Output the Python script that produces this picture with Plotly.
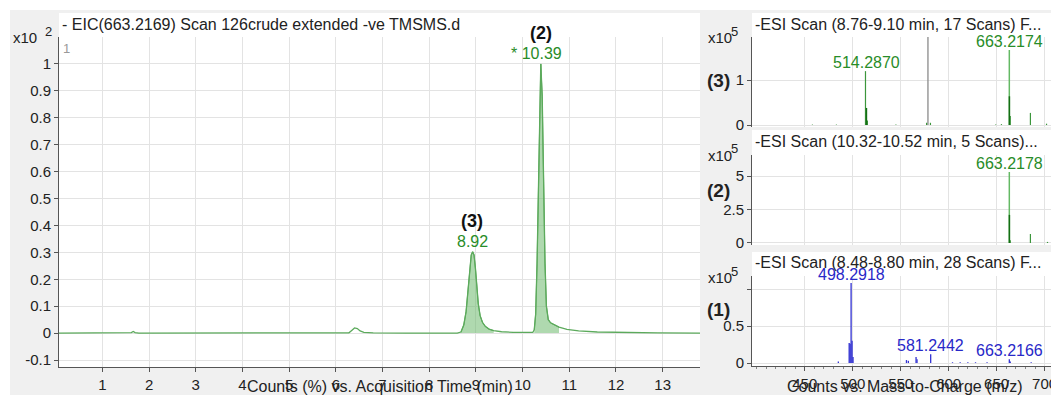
import plotly.graph_objects as go

# The page body has an 8px default margin, so the figure is drawn 8px in from the corner.
OFF = 8
W, H = 1059 - OFF, 395 - OFF

# ---------------- data ----------------
# Extracted ion chromatogram (EIC 663.2169), x10^2 counts (%)
rt_min = [0.07, 1.55, 1.62, 1.66, 1.70, 1.78, 5.90, 6.28, 6.34, 6.40, 6.46, 6.52, 6.60,
          6.80, 7.50, 8.40, 8.60, 8.68, 8.74, 8.79, 8.83, 8.87, 8.90, 8.93, 8.96, 8.99,
          9.02, 9.05, 9.09, 9.14, 9.20, 9.28, 9.38, 9.55, 9.80, 10.10, 10.22, 10.25,
          10.28, 10.31, 10.34, 10.37, 10.39, 10.42, 10.45, 10.48, 10.51, 10.55, 10.60,
          10.68, 10.78, 10.95, 11.20, 11.60, 12.20, 12.90, 13.80]
eic_counts = [0.000, 0.000, 0.002, 0.006, 0.002, 0.000, 0.000, 0.001, 0.010, 0.019, 0.017,
              0.008, 0.003, 0.001, 0.000, -0.001, 0.000, 0.004, 0.030, 0.080, 0.150, 0.240,
              0.290, 0.302, 0.290, 0.240, 0.170, 0.110, 0.065, 0.040, 0.025, 0.015, 0.009,
              0.005, 0.003, 0.002, 0.003, 0.012, 0.070, 0.260, 0.560, 0.860, 1.000, 0.880,
              0.560, 0.260, 0.100, 0.050, 0.038, 0.030, 0.022, 0.014, 0.008, 0.004, 0.002,
              0.001, 0.000]
integration_windows = [(8.68, 9.38), (10.25, 10.78)]
peak_rt_labels = ["8.92", "* 10.39"]
peak_rt = [8.92, 10.39]
peak_rt_height = [0.302, 1.000]
peak_ids = ["(3)", "(2)"]
rt_ticks = list(range(1, 14))
eic_ticks = [-0.1, 0, 0.1, 0.2, 0.3, 0.4, 0.5, 0.6, 0.7, 0.8, 0.9, 1]

# Mass spectra, x10^5 counts
# (3) -ESI Scan (8.76-9.10 min)
ms3_mz = [458.0, 483.0, 513.3, 515.3, 545.0, 577.0, 581.0, 649.0, 655.0, 664.2, 685.2, 702.0]
ms3_int = [0.01, 0.01, 1.20, 0.10, 0.01, 0.05, 0.05, 0.01, 0.02, 0.20, 0.27, 0.03]
ms3_main_mz = [663.2174]
ms3_main_int = [1.67]
ms3_dark_mz = [514.2870, 663.3]
ms3_dark_int = [0.38, 0.64]
ms3_marker_mz = [578.4]
ms3_labels = ["514.2870", "663.2174"]
ms3_label_mz = [514.287, 663.2174]
ms3_label_int = [1.20, 1.67]

# (2) -ESI Scan (10.32-10.52 min)
ms2_mz = [664.2, 685.2, 703.0]
ms2_int = [0.20, 0.67, 0.08]
ms2_main_mz = [663.2178]
ms2_main_int = [5.30]
ms2_dark_mz = [663.3]
ms2_dark_int = [2.10]
ms2_labels = ["663.2178"]
ms2_label_mz = [663.2178]
ms2_label_int = [5.30]

# (1) -ESI Scan (8.48-8.80 min)
ms1_mz = [485.0, 496.3, 497.3, 498.2918, 499.3, 500.3, 556.0, 558.0, 566.0, 567.0,
          581.2442, 604.0, 612.0, 620.0, 628.0, 640.0, 663.2166, 664.2, 686.0]
ms1_int = [0.02, 0.27, 0.26, 1.08, 0.30, 0.08, 0.04, 0.03, 0.08, 0.05,
           0.12, 0.01, 0.01, 0.01, 0.01, 0.01, 0.05, 0.02, 0.01]
ms1_labels = ["498.2918", "581.2442", "663.2166"]
ms1_label_mz = [498.2918, 581.2442, 663.2166]
ms1_label_int = [1.08, 0.12, 0.05]
mz_ticks = [450, 500, 550, 600, 650, 700]

# ---------------- helpers ----------------
def px(x):
    return (x - OFF) / W

def py(y):
    return 1 - (y - OFF) / H

def stems(mz, inten):
    xs, ys = [], []
    for m, v in zip(mz, inten):
        xs += [m, m, None]
        ys += [0, v, None]
    return xs, ys

FONT = "Liberation Sans, Arial, sans-serif"
GREEN_LINE = "rgb(92,170,92)"
GREEN_FILL = "rgba(110,185,110,0.55)"
GREEN_TXT = "rgb(40,140,40)"
BLUE = "rgb(40,40,200)"
GRID = "#e3e3e3"
AX = "#555555"

fig = go.Figure()

# main chromatogram: filled integration regions
for (a, b) in integration_windows:
    xs = [t for t in rt_min if a <= t <= b]
    ys = [v for t, v in zip(rt_min, eic_counts) if a <= t <= b]
    fig.add_trace(go.Scatter(x=xs, y=ys, mode="lines", fill="tozeroy",
                             fillcolor=GREEN_FILL, line=dict(color=GREEN_LINE, width=1),
                             xaxis="x", yaxis="y", hoverinfo="skip"))
fig.add_trace(go.Scatter(x=rt_min, y=eic_counts, mode="lines",
                         line=dict(color=GREEN_LINE, width=1.3), xaxis="x", yaxis="y"))

# spectrum (3)
x, y = stems(ms3_marker_mz, [1.96])
fig.add_trace(go.Scatter(x=x, y=y, mode="lines", line=dict(color="#8a8a8a", width=1.3),
                         xaxis="x2", yaxis="y2"))
x, y = stems(ms3_mz, ms3_int)
fig.add_trace(go.Scatter(x=x, y=y, mode="lines", line=dict(color="rgb(60,150,60)", width=1.2),
                         xaxis="x2", yaxis="y2"))
x, y = stems(ms3_main_mz, ms3_main_int)
fig.add_trace(go.Scatter(x=x, y=y, mode="lines", line=dict(color="rgb(100,185,100)", width=1.5),
                         xaxis="x2", yaxis="y2"))
x, y = stems(ms3_dark_mz, ms3_dark_int)
fig.add_trace(go.Scatter(x=x, y=y, mode="lines", line=dict(color="rgb(20,110,20)", width=1.5),
                         xaxis="x2", yaxis="y2"))

# spectrum (2)
x, y = stems(ms2_mz, ms2_int)
fig.add_trace(go.Scatter(x=x, y=y, mode="lines", line=dict(color="rgb(60,150,60)", width=1.2),
                         xaxis="x3", yaxis="y3"))
x, y = stems(ms2_main_mz, ms2_main_int)
fig.add_trace(go.Scatter(x=x, y=y, mode="lines", line=dict(color="rgb(100,185,100)", width=1.5),
                         xaxis="x3", yaxis="y3"))
x, y = stems(ms2_dark_mz, ms2_dark_int)
fig.add_trace(go.Scatter(x=x, y=y, mode="lines", line=dict(color="rgb(20,110,20)", width=1.5),
                         xaxis="x3", yaxis="y3"))

# spectrum (1)
x, y = stems(ms1_mz, ms1_int)
fig.add_trace(go.Scatter(x=x, y=y, mode="lines", line=dict(color="rgb(50,50,210)", width=1.3),
                         xaxis="x4", yaxis="y4"))

# ---------------- axes ----------------
tickfont = dict(family=FONT, size=15, color="#222")
common_x = dict(showgrid=True, gridcolor=GRID, zeroline=False, ticks="outside", ticklen=4,
                tickcolor=AX, tickfont=tickfont, automargin=False, showline=False)
common_y = dict(showgrid=True, gridcolor=GRID, zeroline=False, ticks="outside", ticklen=4,
                tickcolor=AX, tickfont=tickfont, automargin=False, showline=True,
                linecolor=AX, linewidth=1)

fig.update_layout(
    xaxis=dict(domain=[px(59), px(700)], anchor="y", range=[0.07, 13.8],
               tickvals=rt_ticks, **{**common_x, "showline": True, "linecolor": AX}),
    yaxis=dict(domain=[py(367), py(37)], anchor="x", range=[-0.126, 1.10],
               tickvals=eic_ticks, ticktext=[f"{v:g}" for v in eic_ticks], **common_y),
    xaxis2=dict(domain=[px(752), 1], anchor="y2", range=[395, 715], tickvals=mz_ticks,
                showticklabels=False, **{**common_x, "ticks": ""}),
    yaxis2=dict(domain=[py(127), py(37)], anchor="x2", range=[-0.044, 1.96],
                tickvals=[0, 1], ticktext=["0", "1"], **common_y),
    xaxis3=dict(domain=[px(752), 1], anchor="y3", range=[395, 715], tickvals=mz_ticks,
                showticklabels=False, **{**common_x, "ticks": ""}),
    yaxis3=dict(domain=[py(245), py(155)], anchor="x3", range=[-0.15, 6.57],
                tickvals=[0, 2.5, 5], ticktext=["0", "2.5", "5"], **common_y),
    xaxis4=dict(domain=[px(752), 1], anchor="y4", range=[395, 715], tickvals=mz_ticks,
                minor=dict(dtick=10, ticks="outside", ticklen=2, tickcolor="#888", showgrid=False),
                **{**common_x, "showline": True, "linecolor": AX}),
    yaxis4=dict(domain=[py(366), py(276)], anchor="x4", range=[-0.04, 1.176],
                tickvals=[0, 0.5, 1], ticktext=["0", "0.5", ""], **common_y),
    width=W, height=H, margin=dict(l=0, r=0, t=0, b=0),
    paper_bgcolor="#f0f0f0", plot_bgcolor="white", showlegend=False,
    font=dict(family=FONT, size=15, color="#222"),
)

# background shapes
shapes = [
    dict(type="rect", xref="paper", yref="paper", x0=0, x1=1, y0=py(10), y1=1,
         fillcolor="white", line_width=0, layer="below"),
    dict(type="rect", xref="paper", yref="paper", x0=0, x1=px(10), y0=0, y1=1,
         fillcolor="white", line_width=0, layer="below"),
    dict(type="rect", xref="paper", yref="paper", x0=px(59), x1=px(700), y0=py(37), y1=py(13),
         fillcolor="white", line_width=0, layer="below"),
    dict(type="rect", xref="paper", yref="paper", x0=px(752), x1=1, y0=py(37), y1=py(13),
         fillcolor="white", line_width=0, layer="below"),
    dict(type="rect", xref="paper", yref="paper", x0=px(752), x1=1, y0=py(155), y1=py(130),
         fillcolor="white", line_width=0, layer="below"),
    dict(type="rect", xref="paper", yref="paper", x0=px(752), x1=1, y0=py(276), y1=py(252),
         fillcolor="white", line_width=0, layer="below"),
]
fig.update_layout(shapes=shapes)

ann = []
def text(x, y, s, size=15, color="#222", xa="left", ya="middle", bold=False):
    if bold:
        s = f"<b>{s}</b>"
    ann.append(dict(x=px(x), y=py(y), xref="paper", yref="paper", text=s, showarrow=False,
                    xanchor=xa, yanchor=ya, font=dict(family=FONT, size=size, color=color)))

# titles
text(60, 24, "- EIC(663.2169) Scan 126crude extended -ve TMSMS.d", size=16)
text(753, 24, "-ESI Scan (8.76-9.10 min, 17 Scans) F...", size=16)
text(753, 141, "-ESI Scan (10.32-10.52 min, 5 Scans)...", size=16)
text(753, 262, "-ESI Scan (8.48-8.80 min, 28 Scans) F...", size=16)

# multipliers
text(11, 37, "x10", size=15)
text(43, 31, "2", size=13)
text(706, 37, "x10", size=15)
text(729, 31, "5", size=13)
text(706, 155, "x10", size=15)
text(729, 148, "5", size=13)
text(706, 277, "x10", size=15)
text(729, 271, "5", size=13)

# panel ids
text(705, 80, "(3)", size=19, bold=True)
text(705, 191, "(2)", size=19, bold=True)
text(705, 309, "(1)", size=19, bold=True)

# grey "1" inside EIC panel
text(61, 48, "1", size=13, color="#999")

# axis titles
text(380, 386, "Counts (%) vs. Acquisition Time (min)", size=16, xa="center")
text(905, 386, "Counts vs. Mass-to-Charge (m/z)", size=16, xa="center")

layout_ann = ann

# data-anchored labels on EIC peaks
for lab, t, h, pid in zip(peak_rt_labels, peak_rt, peak_rt_height, peak_ids):
    xshift = -4 if lab.startswith("*") else 0
    layout_ann.append(dict(x=t, y=h, xref="x", yref="y", text=lab, showarrow=False,
                           yanchor="bottom", yshift=0, xshift=xshift,
                           font=dict(family=FONT, size=16, color=GREEN_TXT)))
    layout_ann.append(dict(x=t, y=h, xref="x", yref="y", text=f"<b>{pid}</b>", showarrow=False,
                           yanchor="bottom", yshift=19,
                           font=dict(family=FONT, size=18, color="#111")))

for labs, mzs, hs, xr, yr, col in [
    (ms3_labels, ms3_label_mz, ms3_label_int, "x2", "y2", GREEN_TXT),
    (ms2_labels, ms2_label_mz, ms2_label_int, "x3", "y3", GREEN_TXT),
    (ms1_labels, ms1_label_mz, ms1_label_int, "x4", "y4", BLUE),
]:
    for lab, m, h in zip(labs, mzs, hs):
        layout_ann.append(dict(x=m, y=h, xref=xr, yref=yr, text=lab, showarrow=False,
                               yanchor="bottom", yshift=-2,
                               font=dict(family=FONT, size=16, color=col)))

fig.update_layout(annotations=layout_ann)
fig.write_html("out.html")
